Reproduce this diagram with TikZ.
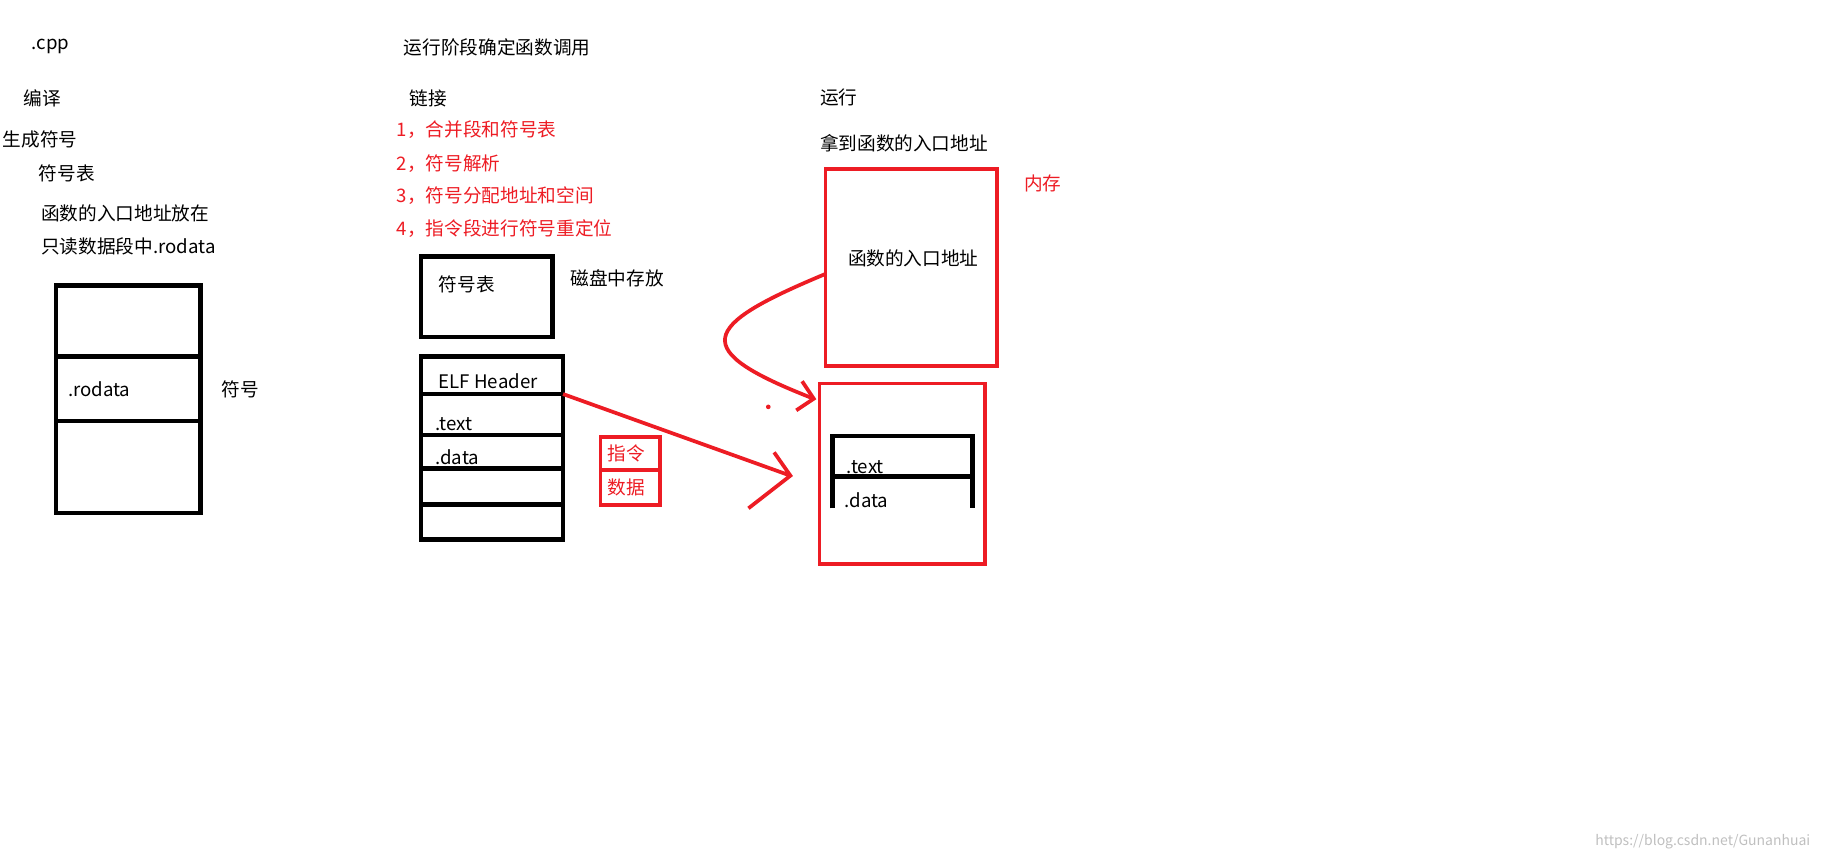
\documentclass[tikz,border=0pt]{standalone}
\usepackage{fontspec}
\setmainfont{Noto Sans CJK SC}
\definecolor{pr}{HTML}{ED1C24}
\begin{document}
\begin{tikzpicture}[x=0.5pt,y=-0.5pt,
  t/.style={anchor=west,inner sep=0pt,font=\fontsize{8}{9}\selectfont},
  r/.style={t,text=pr},
  bk/.style={line width=2pt,black},
  rd/.style={line width=1.6pt,pr}]
\useasboundingbox (0,0) rectangle (1568,738.6);
\node[t] (cpp) at (27,40) {.cpp};
\node[t] (a1) at (20,84) {编译};
\node[t] (a2) at (2,120) {生成符号};
\node[t] (a3) at (33,149) {符号表};
\node[t] (a4) at (35,183) {函数的入口地址放在};
\node[t] (a5) at (35,211) {只读数据段中.rodata};
\draw[bk] (48,245) rectangle (172,440);
\draw[bk] (48,306) -- (172,306) (48,361) -- (172,361);
\node[t] (ro) at (58,334) {.rodata};
\node[t] (fh) at (190,334) {符号};
\node[t] (b0) at (346,41) {运行阶段确定函数调用};
\node[t] (b1) at (351,84) {链接};
\node[r] (b2) at (340,111) {1，合并段和符号表};
\node[r] (b3) at (340,140) {2，符号解析};
\node[r] (b4) at (340,168) {3，符号分配地址和空间};
\node[r] (b5) at (340,196) {4，指令段进行符号重定位};
\draw[bk] (361,220) rectangle (474,289);
\node[t] (fhb) at (376,244) {符号表};
\node[t] (cp) at (489,239) {磁盘中存放};
\draw[bk] (361,306) rectangle (483,463);
\foreach \y in {338,373,402,433} \draw[bk] (361,\y) -- (483,\y);
\node[t] (elf) at (376,327) {ELF Header};
\node[t] (tx) at (373,364) {.text};
\node[t] (dt) at (373,392) {.data};
\draw[rd] (515,375) rectangle (566,403) (515,403) rectangle (566,433);
\node[r] (zl) at (521,389) {指令};
\node[r] (sj) at (521,418) {数据};
\coordinate (p0) at (483,338);
\coordinate (p1) at (678,408);
\draw[rd] (p0) -- (p1) (664,388) -- (p1) -- (642,436);
\node[t] (c1) at (703,84) {运行};
\node[t] (c2) at (703,123) {拿到函数的入口地址};
\draw[rd] (708,145) rectangle (855,314);
\node[t] (rk) at (727,222) {函数的入口地址};
\node[r] (nc) at (878,157) {内存};
\coordinate (q0) at (708,235);
\coordinate (q1) at (698,342);
\draw[rd] (q0) .. controls (600,280) and (590,300) .. (q1);
\draw[rd] (688,327) -- (q1) -- (683,352);
\fill[pr] (659,349) circle (2);
\draw[rd] (703,329) rectangle (845,484);
\draw[bk] (714,436) -- (714,374) -- (834,374) -- (834,436) (714,409) -- (834,409);
\node[t] (tx2) at (726,401) {.text};
\node[t] (dt2) at (724,429) {.data};
\node[t,text=gray!50,font=\fontsize{6}{7}\selectfont] (wm) at (1368,722) {https://blog.csdn.net/Gunanhuai};
\end{tikzpicture}
\end{document}
